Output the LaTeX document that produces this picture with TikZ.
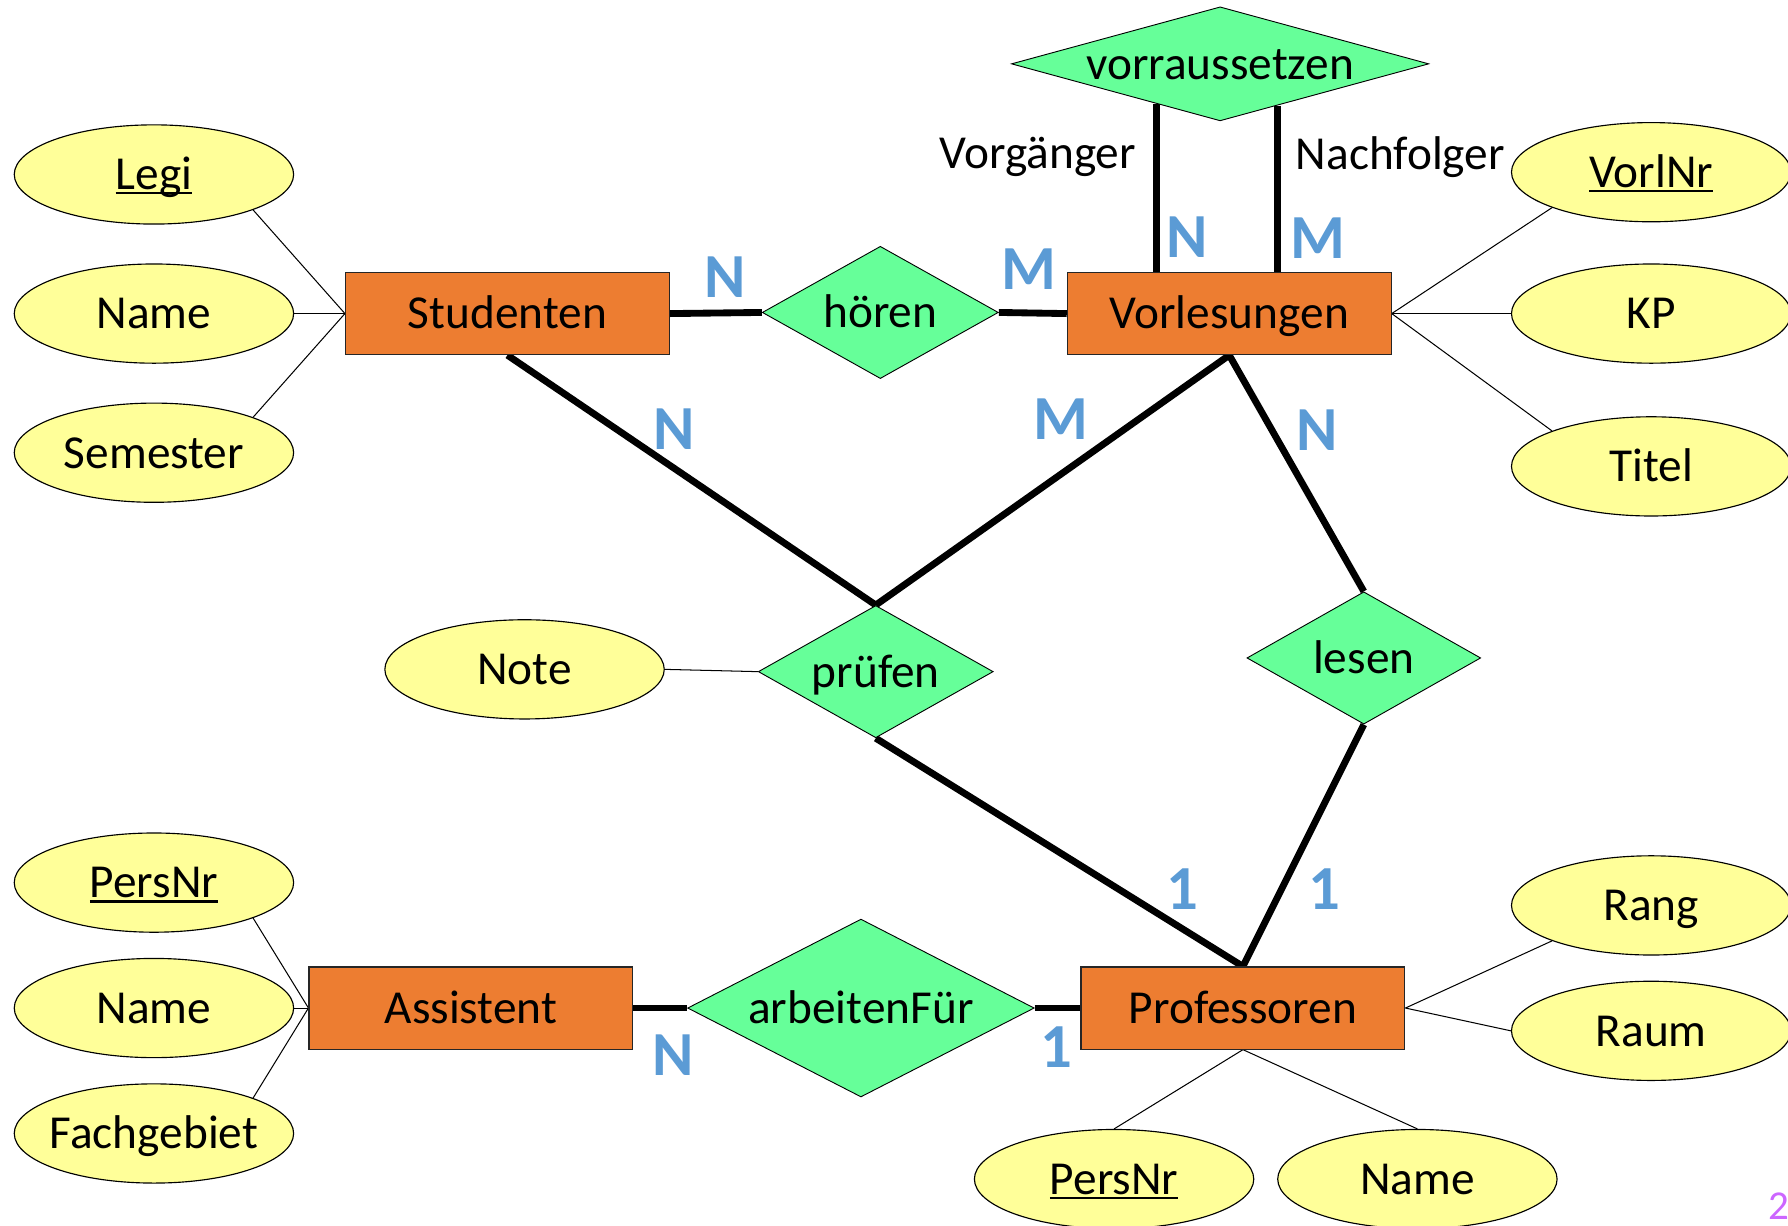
\documentclass[tikz,border=0pt]{standalone}
\usepackage{fontspec}
\setmainfont{Carlito}
\usetikzlibrary{shapes.geometric,calc,backgrounds}
\definecolor{entorange}{HTML}{ED7D31}
\definecolor{relgreen}{HTML}{66FF99}
\definecolor{attryellow}{HTML}{FFFF99}
\definecolor{cardblue}{HTML}{5B9BD5}
\definecolor{pagepurple}{HTML}{CC66FF}
\newcommand\mainfs{\fontsize{41.5}{48}\selectfont}
\newcommand\cardfs{\fontsize{55}{60}\selectfont\bfseries}
\newcommand\attrul[1]{\setbox0\hbox{#1}\rlap{\rule[-4pt]{\wd0}{2pt}}\box0}
\tikzset{
  txt/.style={font=\mainfs, text height=27pt, text depth=0pt},
  entity/.style={rectangle, draw=black!85, line width=1pt, fill=entorange, minimum width=284pt, minimum height=72pt, inner sep=0pt, txt},
  rel/.style={diamond, draw=black, line width=0.8pt, fill=relgreen, inner sep=0pt},
  attr/.style={ellipse, draw=black, line width=1pt, fill=attryellow, minimum width=245pt, minimum height=87pt, inner xsep=-30pt, inner ysep=0pt, txt},
  conn/.style={line width=6pt},
  attrline/.style={line width=0.9pt},
  card/.style={text=cardblue, font=\cardfs, inner sep=0pt},
  role/.style={font=\mainfs, inner sep=0pt},
}
\begin{document}
\begin{tikzpicture}[x=1pt,y=-1pt]
\clip (0,0) rectangle (1568,1075);
% relationships
\node[rel, minimum width=366pt, minimum height=100pt, label={[name=vort,txt,inner sep=0pt]center:vorraussetzen}] (vor) at (1070,56) {};
\node[rel, minimum width=207pt, minimum height=116pt, label={[name=hoet,txt,inner sep=0pt]center:hören}] (hoe) at (772,274) {};
\node[rel, minimum width=206pt, minimum height=116pt, label={[name=prt,txt,inner sep=0pt]center:prüfen}] (pr) at (768,589) {};
\node[rel, minimum width=205pt, minimum height=116pt, label={[name=let,txt,inner sep=0pt]center:lesen}] (le) at (1196,577) {};
\node[rel, minimum width=304pt, minimum height=156pt, label={[name=aft,txt,inner sep=0pt]center:arbeitenFür}] (af) at (755,884) {};
% entities
\node[entity] (st) at (445,275) {Studenten};
\node[entity] (vl) at (1078,275) {Vorlesungen};
\node[entity] (prof) at (1090,884) {Professoren};
\node[entity] (as) at (413,884) {Assistent};
% attributes
\node[attr] (legi) at (135,153) {\attrul{Legi}};
\node[attr] (sname) at (135,275) {Name};
\node[attr] (sem) at (135,397) {Semester};
\node[attr] (vnr) at (1448,151) {\attrul{VorlNr}};
\node[attr] (kp) at (1448,275) {KP};
\node[attr] (titel) at (1448,409) {Titel};
\node[attr] (note) at (460,587) {Note};
\node[attr] (apnr) at (135,774) {\attrul{PersNr}};
\node[attr] (aname) at (135,884) {Name};
\node[attr] (fach) at (135,994) {Fachgebiet};
\node[attr] (rang) at (1448,794) {Rang};
\node[attr] (raum) at (1448,904) {Raum};
\node[attr] (ppnr) at (977,1034) {\attrul{PersNr}};
\node[attr] (pname) at (1243,1034) {Name};
% role names
\node[role] (vorg) at (910,138) {Vorgänger};
\node[role] (nachf) at (1228,138) {Nachfolger};
% cardinalities
\node[card] (c1) at (636,243) {N};
\node[card] (c2) at (902,236) {M};
\node[card] (c3) at (1041,208) {N};
\node[card] (c4) at (1156,209) {M};
\node[card] (c5) at (591,376) {N};
\node[card] (c6) at (930,368) {M};
\node[card] (c7) at (1155,377) {N};
\node[card] (c8) at (1037,780) {1};
\node[card] (c9) at (1161,780) {1};
\node[card] (c10) at (590,925) {N};
\node[card] (c11) at (926,918) {1};
% page number
\node[anchor=north west, inner sep=0pt, text=pagepurple, font=\fontsize{36}{40}\selectfont] (pg) at (1551,1046) {2};
% connectors
\begin{scope}[on background layer]
\fill[white] (0,0) rectangle (1568,1075);
\coordinate (vA) at ($(vor.west)!0.694!(vor.south)$);
\coordinate (vB) at ($(vor.south)!0.273!(vor.east)$);
\draw[conn] (vA) -- (vA |- vl.north);
\draw[conn] (vB) -- (vB |- vl.north);
\draw[conn] (st.east) -- (hoe.west);
\draw[conn] (hoe.east) -- (vl.west);
\draw[conn] (st.south) -- (pr.north);
\draw[conn] (vl.south) -- (pr.north);
\draw[conn] (vl.south) -- (le.north);
\draw[conn] (pr.south) -- (prof.north);
\draw[conn] (le.south) -- (prof.north);
\draw[conn] (as.east) -- (af.west);
\draw[conn] (af.east) -- (prof.west);
\draw[attrline] (legi.south east) -- (st.west);
\draw[attrline] (sname.east) -- (st.west);
\draw[attrline] (sem.north east) -- (st.west);
\draw[attrline] (vnr.south west) -- (vl.east);
\draw[attrline] (kp.west) -- (vl.east);
\draw[attrline] (titel.north west) -- (vl.east);
\draw[attrline] (note.east) -- (pr.west);
\draw[attrline] (apnr.south east) -- (as.west);
\draw[attrline] (aname.east) -- (as.west);
\draw[attrline] (fach.north east) -- (as.west);
\draw[attrline] (rang.south west) -- (prof.east);
\draw[attrline] (raum.west) -- (prof.east);
\draw[attrline] (ppnr.north) -- (prof.south);
\draw[attrline] (pname.north) -- (prof.south);
\end{scope}
\end{tikzpicture}
\end{document}
